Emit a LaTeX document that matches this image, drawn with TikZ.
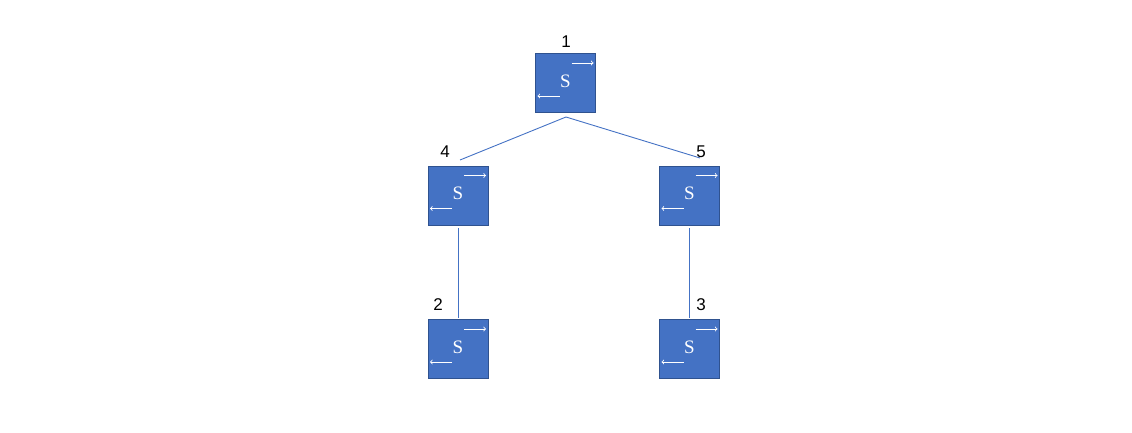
\documentclass[tikz,border=0pt]{standalone}
\usepackage{fontspec}
\setmainfont{Liberation Sans}
\definecolor{sw}{HTML}{4472C4}
\definecolor{swb}{HTML}{2F528F}
\begin{document}
\begin{tikzpicture}[x=1pt,y=-1pt,
  swbox/.style={draw=swb,fill=sw,minimum width=60pt,minimum height=59pt,inner sep=0pt,line width=0.6pt},
  lnk/.style={draw=sw,line width=0.9pt},
  lab/.style={font=\fontsize{17}{17}\selectfont,inner sep=0pt}]
\useasboundingbox (0,0) rectangle (1132,433);
\newcommand{\swicon}[2]{%
  \node[swbox] (#1) at #2 {};
  \draw[white,line width=0.8pt,->] ([xshift=-6pt,yshift=-13pt]#1.center) -- ++(-22,0);
  \draw[white,line width=0.8pt,->] ([xshift=6pt,yshift=20pt]#1.center) -- ++(22,0);
  \node[white,font=\fontspec{Liberation Serif}\fontsize{19}{19}\selectfont] at ([yshift=2pt]#1.center) {S};
}
\swicon{s1}{(565.5,83)}
\swicon{s4}{(458,195.5)}
\swicon{s5}{(689.5,195.5)}
\swicon{s2}{(458,349)}
\swicon{s3}{(689.5,349)}
\coordinate (t1) at (566,117);
\coordinate (e4) at (460,160);
\coordinate (e5) at (700,158);
\coordinate (b4) at (458,228);
\coordinate (e2) at (458,318);
\coordinate (b5) at (689,228);
\coordinate (e3) at (689,318);
\draw[lnk] (t1) -- (e4);
\draw[lnk] (t1) -- (e5);
\draw[lnk] (b4) -- (e2);
\draw[lnk] (b5) -- (e3);
\node[lab] (l1) at (566,42) {1};
\node[lab] (l4) at (445,152) {4};
\node[lab] (l5) at (701,152) {5};
\node[lab] (l2) at (438,305) {2};
\node[lab] (l3) at (701,305) {3};
\end{tikzpicture}
\end{document}
